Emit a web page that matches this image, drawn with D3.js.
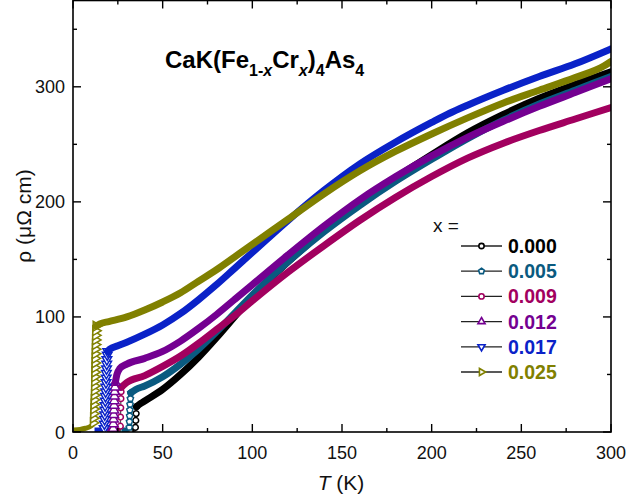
<!DOCTYPE html>
<html>
<head>
<meta charset="utf-8">
<script src="https://cdn.jsdelivr.net/npm/d3@7"></script>
<style>
  html, body { margin: 0; padding: 0; background: #fff; }
  svg { display: block; font-family: "Liberation Sans", Arial, sans-serif; }
</style>
</head>
<body>
<svg id="chart" width="626" height="500"></svg>
<script>
// Doping levels and their colours
const dopings = ["0.000", "0.005", "0.009", "0.012", "0.017", "0.025"];
const colors  = ["#000000", "#0a5a80", "#a2005f", "#740091", "#0a22c8", "#808000"];
const symbolNames = ["circle", "pentagon", "circle", "triangleUp", "triangleDown", "triangleRight"];

// Superconducting state (rho = 0) readings for each sample, T in K
const zero000 = [[33, 0], [34.6, 0]];
const zero005 = [[27, 0], [31.2, 0]];
const zero009 = [[23, 0], [26.4, 0]];
const zero012 = [[19, 0], [22.3, 0]];
const zero017 = [[12, 0], [17.3, 0]];
const zero025 = [[0.5, 0], [4, 0.5], [7, 1.5], [9, 2.5], [10.5, 4], [11.2, 5]];

// Transition readings (T, rho) for each sample
const trans000 = [[34.8, 4], [35, 10], [35.2, 16], [35.4, 22]];
const trans005 = [[31.4, 4], [31.5, 9], [31.6, 14], [31.7, 19], [31.8, 24], [32, 29], [32.2, 34]];
const trans009 = [[26.4, 5], [26.5, 13], [26.6, 21], [26.7, 29], [26.8, 35], [27, 39]];
const trans012 = [[22.4, 3], [22.5, 7], [22.6, 11], [22.7, 15], [22.8, 19], [22.9, 23], [23, 27], [23.1, 31], [23.2, 35], [23.4, 39], [23.6, 43]];
const trans017 = [[17.4, 3], [17.5, 7], [17.6, 11], [17.7, 15], [17.8, 19], [17.9, 23], [18, 27], [18.1, 31], [18.2, 35], [18.3, 39], [18.4, 43], [18.5, 47], [18.6, 51], [18.7, 55], [18.8, 59], [18.9, 63], [19.1, 67], [19.4, 70]];
const trans025 = [[11.3, 8], [11.4, 12], [11.5, 16], [11.6, 20], [11.7, 24], [11.8, 28], [11.9, 32], [11.95, 36], [12, 40], [12.05, 44], [12.1, 48], [12.15, 52], [12.2, 56], [12.25, 60], [12.3, 64], [12.35, 68], [12.4, 72], [12.45, 76], [12.5, 80], [12.55, 84], [12.6, 88], [12.8, 92]];

// Normal-state resistivity (T in K, rho in µΩ cm)
const rho000 = [[35.4, 22], [38, 25], [40, 27], [50, 37], [60, 50], [70, 65], [80, 82], [90, 100], [100, 118], [120, 148], [140, 175], [160, 199], [180, 221], [200, 241], [220, 260], [240, 276], [260, 290], [280, 302], [300, 313]];
const rho005 = [[32.2, 34], [35, 37], [40, 40], [50, 48], [60, 59], [70, 72], [80, 87], [90, 103], [100, 119], [120, 148], [140, 174], [160, 197], [180, 218], [200, 237], [220, 255], [240, 271], [260, 285], [280, 297], [300, 309]];
const rho009 = [[27, 39], [30, 43], [40, 49], [50, 57], [60, 66], [70, 77], [80, 89], [90, 101], [100, 114], [120, 139], [140, 162], [160, 184], [180, 204], [200, 222], [220, 238], [240, 251], [260, 262], [280, 272], [300, 282]];
const rho012 = [[23.6, 43], [24.5, 50], [26, 55], [30, 59], [40, 64], [50, 70], [60, 79], [70, 90], [80, 102], [90, 115], [100, 128], [120, 154], [140, 179], [160, 202], [180, 222], [200, 240], [220, 256], [240, 270], [260, 283], [280, 295], [300, 307]];
const rho017 = [[19.4, 70], [20.5, 72], [25, 75], [30, 78], [40, 85], [50, 93], [60, 103], [70, 115], [80, 128], [90, 142], [100, 156], [120, 184], [140, 210], [160, 233], [180, 252], [200, 269], [210, 277], [220, 284], [240, 297], [260, 309], [280, 320], [300, 333]];
const rho025 = [[12.8, 92], [15, 94], [20, 96], [30, 100], [40, 106], [50, 113], [60, 121], [70, 131], [80, 141], [90, 152], [100, 163], [120, 185], [140, 207], [160, 227], [180, 244], [200, 259], [220, 273], [240, 286], [260, 297], [280, 308], [296, 318], [300, 322]];

const zeros = [zero000, zero005, zero009, zero012, zero017, zero025];
const transitions = [trans000, trans005, trans009, trans012, trans017, trans025];
const normals = [rho000, rho005, rho009, rho012, rho017, rho025];

// Axis ticks
const xMajor = [0, 50, 100, 150, 200, 250, 300];
const xMinor = [25, 75, 125, 175, 225, 275];
const yMajor = [0, 100, 200, 300];
const yMinor = [50, 150, 250, 350];

const svg = d3.select("#chart");
const mLeft = 73, mRight = 611, mTop = 0.5, mBottom = 432;

const x = d3.scaleLinear().domain([0, 300]).range([mLeft, mRight]);
const y = d3.scaleLinear().domain([0, 375]).range([mBottom, mTop]);

// Custom marker shapes
const pentagon = {
  draw(context, size) {
    const r = Math.sqrt(size / 2.3776);
    for (let i = 0; i < 5; i++) {
      const a = -Math.PI / 2 + i * 2 * Math.PI / 5;
      const px = r * Math.cos(a), py = r * Math.sin(a);
      if (i === 0) context.moveTo(px, py); else context.lineTo(px, py);
    }
    context.closePath();
  }
};
const triRight = {
  draw(context, size) {
    const r = Math.sqrt(size / 1.299);
    context.moveTo(r, 0);
    context.lineTo(-r / 2, -r * 0.866);
    context.lineTo(-r / 2, r * 0.866);
    context.closePath();
  }
};
const triDown = {
  draw(context, size) {
    const r = Math.sqrt(size / 1.299);
    context.moveTo(0, r);
    context.lineTo(-r * 0.866, -r / 2);
    context.lineTo(r * 0.866, -r / 2);
    context.closePath();
  }
};
const symbolTypes = {
  circle: d3.symbolCircle,
  pentagon: pentagon,
  triangleUp: d3.symbolTriangle,
  triangleDown: triDown,
  triangleRight: triRight
};

svg.append("clipPath").attr("id", "plotclip").append("rect")
  .attr("x", mLeft).attr("y", mTop).attr("width", mRight - mLeft).attr("height", mBottom - mTop);
const plot = svg.append("g").attr("clip-path", "url(#plotclip)");

const line = d3.line().x(d => x(d[0])).y(d => y(d[1])).curve(d3.curveMonotoneX);
const straight = d3.line().x(d => x(d[0])).y(d => y(d[1]));

// Draw series in order so the later ones sit on top
dopings.forEach((dop, i) => {
  const c = colors[i];
  const g = plot.append("g");
  // superconducting state along rho = 0
  g.append("path")
    .attr("d", line(zeros[i]))
    .attr("transform", "translate(0,-2)")
    .attr("fill", "none").attr("stroke", c).attr("stroke-width", 5);
  // thin connector through the transition
  const tr = transitions[i];
  g.append("path")
    .attr("d", straight([zeros[i][zeros[i].length - 1], ...tr]))
    .attr("fill", "none").attr("stroke", i < 3 ? "#555" : c).attr("stroke-width", 1.2);
  // transition markers
  const sym = d3.symbol().type(symbolTypes[symbolNames[i]]).size(i >= 3 ? 40 : 26);
  g.selectAll("path.m").data(tr).join("path")
    .attr("class", "m")
    .attr("transform", d => `translate(${x(d[0])},${y(d[1])})`)
    .attr("d", sym())
    .attr("fill", "#fff").attr("stroke", c).attr("stroke-width", 1.5);
  // normal-state band
  g.append("path")
    .attr("d", line(normals[i]))
    .attr("fill", "none").attr("stroke", c)
    .attr("stroke-width", 7).attr("stroke-linejoin", "round").attr("stroke-linecap", "round");
});

// Frame and ticks
const axes = svg.append("g").attr("stroke", "#000").attr("fill", "none");
axes.append("rect").attr("x", mLeft).attr("y", mTop).attr("width", mRight - mLeft).attr("height", mBottom - mTop)
  .attr("stroke-width", 1.6);

function ticks(values, len, horizontal) {
  values.forEach(v => {
    if (horizontal) {
      axes.append("line").attr("x1", x(v)).attr("x2", x(v)).attr("y1", mBottom).attr("y2", mBottom - len).attr("stroke-width", 1.4);
      axes.append("line").attr("x1", x(v)).attr("x2", x(v)).attr("y1", mTop).attr("y2", mTop + len).attr("stroke-width", 1.4);
    } else {
      axes.append("line").attr("y1", y(v)).attr("y2", y(v)).attr("x1", mLeft).attr("x2", mLeft + len).attr("stroke-width", 1.4);
      axes.append("line").attr("y1", y(v)).attr("y2", y(v)).attr("x1", mRight).attr("x2", mRight - len).attr("stroke-width", 1.4);
    }
  });
}
ticks(xMajor, 8, true);
ticks(xMinor, 4, true);
ticks(yMajor, 8, false);
ticks(yMinor, 4, false);

// Tick labels
svg.append("g").selectAll("text").data(xMajor).join("text")
  .attr("x", d => x(d)).attr("y", 459).attr("text-anchor", "middle")
  .attr("font-size", 18).attr("fill", "#111").text(d => d);
svg.append("g").selectAll("text").data(yMajor).join("text")
  .attr("x", 65).attr("y", d => y(d) + 6.5).attr("text-anchor", "end")
  .attr("font-size", 18).attr("fill", "#111").text(d => d);

// Axis titles
const xt = svg.append("text").attr("x", 341).attr("y", 490).attr("text-anchor", "middle")
  .attr("font-size", 21).attr("fill", "#111");
xt.append("tspan").attr("font-style", "italic").text("T");
xt.append("tspan").text(" (K)");

svg.append("text").attr("transform", "translate(31,216) rotate(-90)")
  .attr("text-anchor", "middle").attr("font-size", 21).attr("fill", "#111")
  .text("ρ (μΩ cm)");

// Compound formula
const title = svg.append("text").attr("x", 165).attr("y", 68)
  .attr("font-size", 24).attr("font-weight", "bold").attr("fill", "#000");
title.append("tspan").text("CaK(Fe");
title.append("tspan").attr("font-size", 16).attr("dy", 8).text("1-");
title.append("tspan").attr("font-size", 16).attr("font-style", "italic").text("x");
title.append("tspan").attr("dy", -8).text("Cr");
title.append("tspan").attr("font-size", 16).attr("dy", 8).attr("font-style", "italic").text("x");
title.append("tspan").attr("dy", -8).text(")");
title.append("tspan").attr("font-size", 16).attr("dy", 8).text("4");
title.append("tspan").attr("dy", -8).text("As");
title.append("tspan").attr("font-size", 16).attr("dy", 8).text("4");

// Legend
const lg = svg.append("g");
lg.append("text").attr("x", 433).attr("y", 232).attr("font-size", 19).attr("fill", "#111").text("x =");
dopings.forEach((dop, i) => {
  const ly = 246 + i * 25.2;
  lg.append("line").attr("x1", 461).attr("x2", 502).attr("y1", ly).attr("y2", ly)
    .attr("stroke", "#222").attr("stroke-width", 1.3);
  lg.append("path").attr("transform", `translate(481.5,${ly})`)
    .attr("d", d3.symbol().type(symbolTypes[symbolNames[i]]).size(22)())
    .attr("fill", "#fff").attr("stroke", colors[i]).attr("stroke-width", 1.6);
  lg.append("text").attr("x", 508).attr("y", ly + 7).attr("font-size", 19.5)
    .attr("font-weight", "bold").attr("fill", colors[i]).text(dop);
});
</script>
</body>
</html>
